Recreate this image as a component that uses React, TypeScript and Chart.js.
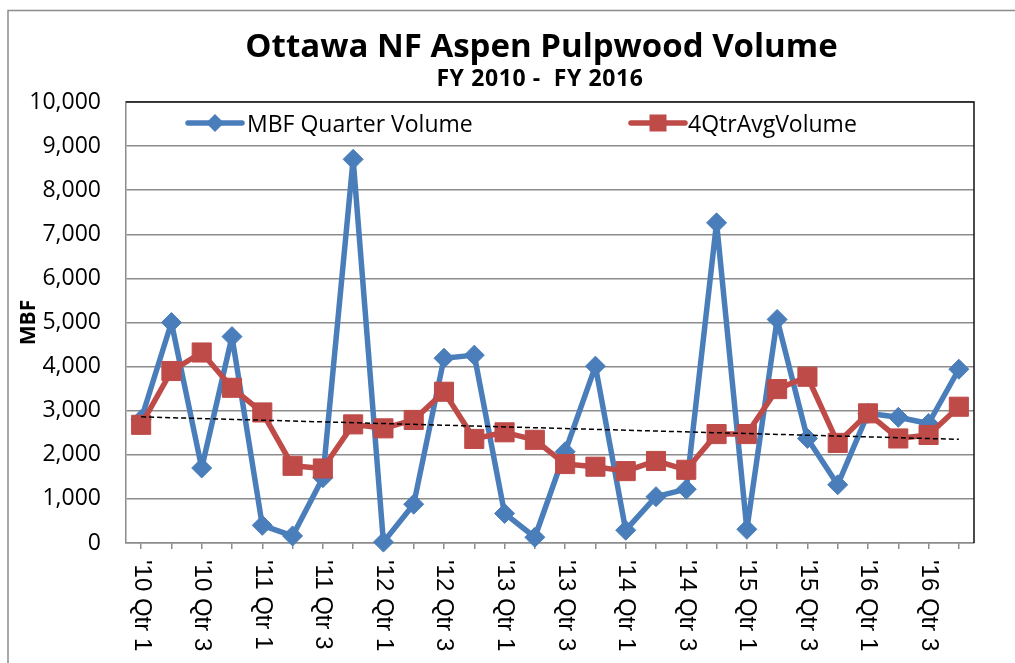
import React, { useEffect, useRef } from 'react';
import { Chart, registerables } from 'chart.js';

Chart.register(...registerables);

const categories = [
  "'10 Qtr 1", "'10 Qtr 2", "'10 Qtr 3", "'10 Qtr 4",
  "'11 Qtr 1", "'11 Qtr 2", "'11 Qtr 3", "'11 Qtr 4",
  "'12 Qtr 1", "'12 Qtr 2", "'12 Qtr 3", "'12 Qtr 4",
  "'13 Qtr 1", "'13 Qtr 2", "'13 Qtr 3", "'13 Qtr 4",
  "'14 Qtr 1", "'14 Qtr 2", "'14 Qtr 3", "'14 Qtr 4",
  "'15 Qtr 1", "'15 Qtr 2", "'15 Qtr 3", "'15 Qtr 4",
  "'16 Qtr 1", "'16 Qtr 2", "'16 Qtr 3", "'16 Qtr 4",
];

const shownXLabels = [
  "'10 Qtr 1", "'10 Qtr 3", "'11 Qtr 1", "'11 Qtr 3", "'12 Qtr 1", "'12 Qtr 3",
  "'13 Qtr 1", "'13 Qtr 3", "'14 Qtr 1", "'14 Qtr 3", "'15 Qtr 1", "'15 Qtr 3",
  "'16 Qtr 1", "'16 Qtr 3",
];

const quarterVolume = [
  2800, 5000, 1700, 4680, 400, 160, 1480, 8700, 20, 880, 4190, 4260, 670, 130,
  2070, 4010, 290, 1050, 1220, 7260, 310, 5070, 2370, 1320, 2940, 2850, 2710, 3940,
];

const avgVolume = [
  2680, 3900, 4320, 3520, 2960, 1750, 1690, 2690, 2600, 2790, 3430, 2360, 2510, 2340,
  1790, 1730, 1630, 1860, 1660, 2470, 2470, 3490, 3770, 2270, 2940, 2370, 2450, 3090,
];

const trendEnds = [2860, 2350];

const seriesNames = ['MBF Quarter Volume', '4QtrAvgVolume'];
const titleText = 'Ottawa NF Aspen Pulpwood Volume';
const subtitleText = 'FY 2010 -  FY 2016';
const yAxisTitle = 'MBF';
const yMin = 0;
const yMax = 10000;
const yStep = 1000;

const BLUE = '#4A7EBB';
const RED = '#BE4B48';
const GRAY = '#8c8c8c';
const FONT = '"Open Sans", "Noto Sans", sans-serif';

const framePlugin = {
  id: 'frame',
  beforeDraw(chart: any) {
    const ctx = chart.ctx;
    ctx.save();
    ctx.fillStyle = '#ffffff';
    ctx.fillRect(0, 0, chart.width, chart.height);
    ctx.strokeStyle = GRAY;
    ctx.lineWidth = 1.5;
    ctx.strokeRect(8, 10.5, chart.width + 20, chart.height + 20);
    ctx.restore();
  },
  beforeDatasetsDraw(chart: any) {
    const { ctx, chartArea } = chart;
    ctx.save();
    ctx.strokeStyle = '#111111';
    ctx.lineWidth = 1.5;
    ctx.beginPath();
    ctx.moveTo(chartArea.left, chartArea.top);
    ctx.lineTo(chartArea.right, chartArea.top);
    ctx.lineTo(chartArea.right, chartArea.bottom);
    ctx.stroke();
    ctx.restore();
  },
};

const headingsPlugin = {
  id: 'headings',
  afterDraw(chart: any) {
    const ctx = chart.ctx;
    ctx.save();
    ctx.fillStyle = '#000';
    ctx.textAlign = 'center';
    ctx.textBaseline = 'alphabetic';
    ctx.font = `bold 33px ${FONT}`;
    ctx.fillText(titleText, 541.5, 56.5);
    ctx.font = `bold 23px ${FONT}`;
    (ctx as any).letterSpacing = '0.6px';
    ctx.fillText(subtitleText, 540, 85.5);
    (ctx as any).letterSpacing = '0px';
    ctx.restore();
  },
};

const legendPlugin = {
  id: 'excelLegend',
  afterDraw(chart: any) {
    const ctx = chart.ctx;
    const items = [
      { ds: 0, x0: 188, x1: 242, tx: 247, shape: 'diamond' },
      { ds: 1, x0: 631, x1: 685, tx: 688, shape: 'square' },
    ];
    const y = 123;
    ctx.save();
    items.forEach((it) => {
      const ds = chart.data.datasets[it.ds];
      ctx.strokeStyle = ds.borderColor;
      ctx.lineWidth = ds.borderWidth;
      ctx.lineCap = 'round';
      ctx.beginPath();
      ctx.moveTo(it.x0, y);
      ctx.lineTo(it.x1, y);
      ctx.stroke();
      const cx = (it.x0 + it.x1) / 2;
      ctx.fillStyle = ds.borderColor;
      ctx.beginPath();
      if (it.shape === 'diamond') {
        const r = 9;
        ctx.moveTo(cx, y - r);
        ctx.lineTo(cx + r, y);
        ctx.lineTo(cx, y + r);
        ctx.lineTo(cx - r, y);
        ctx.closePath();
      } else {
        const h = 8.5;
        ctx.rect(cx - h, y - h, 2 * h, 2 * h);
      }
      ctx.fill();
      ctx.fillStyle = '#000';
      ctx.font = `23px ${FONT}`;
      ctx.textAlign = 'left';
      ctx.textBaseline = 'alphabetic';
      ctx.fillText(ds.label, it.tx, 132);
    });
    ctx.restore();
  },
};

const xLabelsPlugin = {
  id: 'xLabels',
  afterDraw(chart: any) {
    const xs = chart.scales.x;
    const ctx = chart.ctx;
    ctx.save();
    ctx.font = '24px "Liberation Sans", Arial, sans-serif';
    ctx.fillStyle = '#000';
    ctx.textAlign = 'left';
    ctx.textBaseline = 'middle';
    categories.forEach((c, i) => {
      if (!shownXLabels.includes(c)) return;
      const x = xs.getPixelForValue(i);
      ctx.save();
      ctx.translate(x, xs.top + 17);
      ctx.rotate(Math.PI / 2);
      ctx.fillText(c, 0, 0);
      ctx.restore();
    });
    ctx.restore();
  },
};

export default function App() {
  const canvasRef = useRef<HTMLCanvasElement | null>(null);

  useEffect(() => {
    if (!canvasRef.current) return;
    const chart = new Chart(canvasRef.current, {
      type: 'line',
      data: {
        labels: categories,
        datasets: [
          {
            label: seriesNames[0],
            data: quarterVolume,
            borderColor: BLUE,
            backgroundColor: BLUE,
            borderWidth: 5.5,
            borderJoinStyle: 'round',
            borderCapStyle: 'round',
            pointStyle: 'rectRot',
            pointRadius: 10,
            pointBorderWidth: 1,
            pointBackgroundColor: BLUE,
            pointBorderColor: BLUE,
            tension: 0,
            order: 2,
            clip: false,
          } as any,
          {
            label: seriesNames[1],
            data: avgVolume,
            borderColor: RED,
            backgroundColor: RED,
            borderWidth: 5.5,
            borderJoinStyle: 'round',
            borderCapStyle: 'round',
            pointStyle: 'rect',
            pointRadius: 13.5,
            pointBorderWidth: 1,
            pointBackgroundColor: RED,
            pointBorderColor: RED,
            tension: 0,
            order: 1,
            clip: false,
          } as any,
          {
            label: 'Trend',
            data: [
              { x: categories[0], y: trendEnds[0] },
              { x: categories[categories.length - 1], y: trendEnds[1] },
            ],
            borderColor: '#000000',
            borderWidth: 1.5,
            borderDash: [5, 3],
            pointRadius: 0,
            tension: 0,
            order: 0,
            clip: false,
          } as any,
        ],
      },
      options: {
        responsive: false,
        animation: false,
        layout: { padding: { top: 102, left: 0, right: 41, bottom: 0 } },
        plugins: {
          legend: { display: false },
          title: { display: false },
          tooltip: { enabled: false },
        },
        scales: {
          x: {
            type: 'category',
            offset: true,
            grid: {
              display: true,
              offset: false,
              drawOnChartArea: false,
              drawTicks: true,
              tickLength: 6,
              color: GRAY,
              lineWidth: 1.5,
            },
            border: { display: true, color: GRAY, width: 1.5 },
            ticks: { display: false },
            afterFit: (scale: any) => {
              scale.height = 120;
            },
          },
          y: {
            min: yMin,
            max: yMax,
            ticks: {
              stepSize: yStep,
              color: '#000',
              padding: 25,
              font: { family: FONT, size: 23 },
              callback: (v: any) => Number(v).toLocaleString('en-US'),
            },
            grid: {
              color: GRAY,
              lineWidth: 1.5,
              drawTicks: false,
            },
            border: { display: true, color: GRAY, width: 1.5 },
            title: {
              display: true,
              text: yAxisTitle,
              color: '#000',
              font: { family: FONT, size: 21, weight: 'bold' },
              padding: { top: 16, bottom: 0 },
            },
            afterFit: (scale: any) => {
              scale.width = 126;
            },
          },
        },
      } as any,
      plugins: [framePlugin, headingsPlugin, legendPlugin, xLabelsPlugin],
    });
    return () => chart.destroy();
  }, []);

  return (
    <div style={{ position: 'absolute', left: 0, top: 0, width: 1015, height: 663, background: '#fff' }}>
      <canvas ref={canvasRef} width={1015} height={663} style={{ display: 'block' }} />
    </div>
  );
}
